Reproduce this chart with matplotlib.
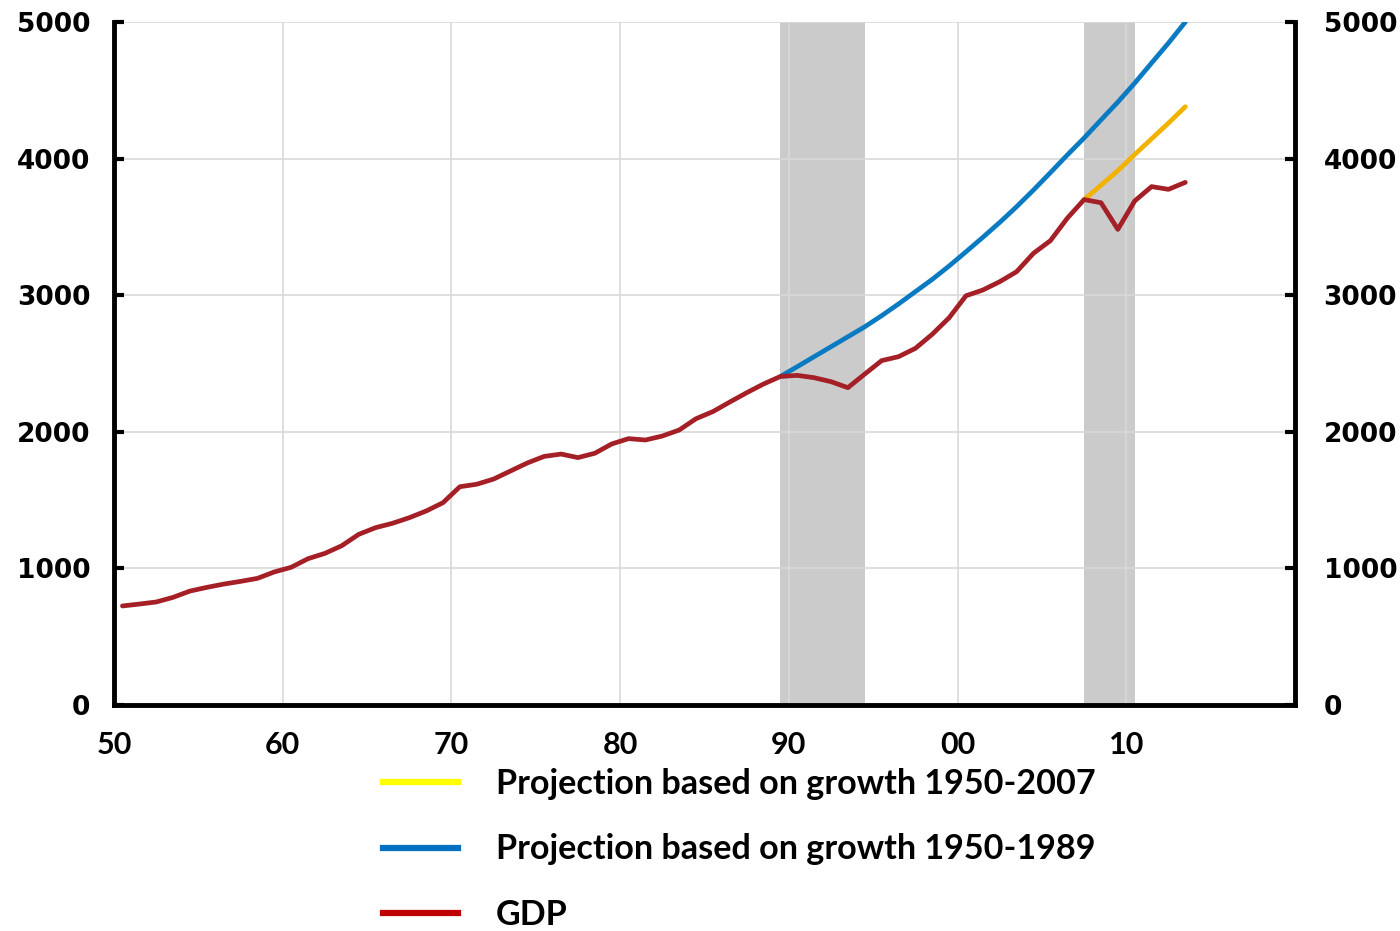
import numpy as np
import matplotlib.pyplot as plt
import matplotlib.transforms as mtransforms
from matplotlib.lines import Line2D

# ---------------------------------------------------------
# Data, annual values
# ---------------------------------------------------------
years = np.arange(1950, 2014)
gdp = [725, 739, 754, 788, 834, 861, 885, 905, 927, 974,
       1008, 1071, 1110, 1166, 1249, 1298, 1330, 1371, 1420, 1481,
       1598, 1616, 1654, 1713, 1772, 1820, 1837, 1811, 1843, 1911,
       1950, 1940, 1969, 2013, 2096, 2148, 2218, 2286, 2350, 2405,
       2413, 2396, 2367, 2323, 2423, 2521, 2550, 2611, 2714, 2835,
       2996, 3038, 3099, 3172, 3307, 3399, 3563, 3700, 3677, 3482,
       3690, 3795, 3775, 3826]

proj89_years = np.arange(1989, 2014)
proj89 = [2405, 2477, 2550, 2623, 2696, 2769, 2850, 2936, 3026, 3116,
          3214, 3318, 3424, 3533, 3648, 3770, 3897, 4026, 4151, 4283,
          4414, 4553, 4700, 4846, 5000]

proj07_years = np.arange(2007, 2014)
proj07 = [3700, 3805, 3912, 4030, 4145, 4260, 4380]

shaded = [(1989.5, 1994.5), (2007.5, 2010.5)]

xticks = [1950, 1960, 1970, 1980, 1990, 2000, 2010]
xlabels = ["50", "60", "70", "80", "90", "00", "10"]
yticks = [0, 1000, 2000, 3000, 4000, 5000]

labels = ["Projection based on growth 1950-2007",
          "Projection based on growth 1950-1989",
          "GDP"]

# ---------------------------------------------------------
# Plot
# ---------------------------------------------------------
fig = plt.figure(figsize=(14, 9.31), dpi=100)
ax = fig.add_axes([114 / 1400, 1 - 705 / 931, (1295 - 114) / 1400, (705 - 22) / 931])

for x0, x1 in shaded:
    ax.axvspan(x0, x1, color="#cbcbcb", lw=0, zorder=0.5)

mid = 0.5  # annual values plotted at mid-year
ax.plot(proj89_years + mid, proj89, color="#0a7bc2", lw=3.4, solid_capstyle="round", zorder=3)
ax.plot(proj07_years + mid, proj07, color="#f2b200", lw=3.4, solid_capstyle="round", zorder=3)
ax.plot(years + mid, gdp, color="#a51f27", lw=3.4, solid_capstyle="round", zorder=4)

ax.set_xlim(1950, 2020)
ax.set_ylim(0, 5000)
ax.set_xticks(xticks)
ax.set_xticklabels(xlabels, fontfamily="Lato", fontweight="bold", fontsize=22)
ax.set_yticks(yticks)
ax.grid(True, color="#d9d9d9", lw=1.2)

ax.tick_params(axis="x", length=0, pad=19)
ax.tick_params(axis="y", direction="in", length=7, width=3,
               labelsize=19, pad=17, left=True, right=True,
               labelleft=True, labelright=True)
for t in ax.yaxis.get_major_ticks():
    t.label1.set_fontweight("bold")
    t.label2.set_fontweight("bold")

ax.spines["top"].set_visible(False)
for s in ["left", "right", "bottom"]:
    ax.spines[s].set_linewidth(3.5)
    ax.spines[s].set_color("black")

handles = [Line2D([], [], color="#ffff00", lw=4.5),
           Line2D([], [], color="#0070c0", lw=4.5),
           Line2D([], [], color="#c00000", lw=4.5)]
fig.legend(handles, labels, loc="upper left",
           bbox_to_anchor=(383 / 1400, 1 - 768 / 931),
           frameon=False, borderpad=0, borderaxespad=0,
           handlelength=2.2, handletextpad=1.1, labelspacing=0.98,
           prop={"family": "Lato", "weight": "bold", "size": 24.6})

# right-hand tick labels sit a bit further from the spine
fig.canvas.draw()
offset = mtransforms.ScaledTranslation(5 / 100, 0, fig.dpi_scale_trans)
for t in ax.yaxis.get_major_ticks():
    t.label2.set_transform(t.label2.get_transform() + offset)

plt.savefig("out.png", dpi=100)
plt.close()
